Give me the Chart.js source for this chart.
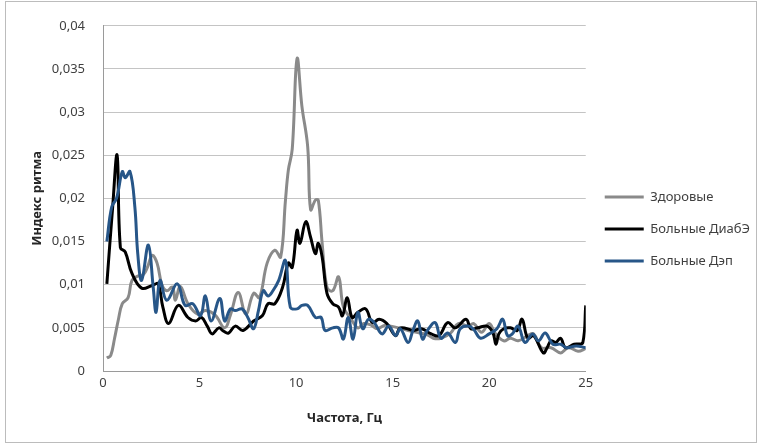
<!DOCTYPE html>
<html>
<head>
<meta charset="utf-8">
<script src="https://cdn.jsdelivr.net/npm/chart.js@4/dist/chart.umd.min.js"></script>
<style>
  html, body { margin: 0; padding: 0; background: #fff; }
  #wrap { width: 760px; height: 448px; }
</style>
</head>
<body>
<div id="wrap"><canvas id="chart" width="760" height="448"></canvas></div>
<script>
const seriesNames = ["Здоровые", "Больные ДиабЭ", "Больные Дэп"];

const healthyFreq = [0.2,0.4,0.6,0.8,1.0,1.3,1.5,1.8,2.1,2.3,2.55,2.8,3.05,3.3,3.6,3.75,4.0,4.4,4.9,5.3,5.8,6.3,6.6,7.0,7.4,7.8,8.1,8.5,8.9,9.2,9.45,9.6,9.8,10.05,10.3,10.6,10.75,11.0,11.15,11.35,11.6,11.9,12.2,12.45,12.8,13.2,13.5,13.9,14.2,14.6,14.9,15.3,15.8,16.4,16.8,17.1,17.5,18.0,18.4,18.9,19.2,19.6,20.0,20.3,20.75,21.1,21.5,22.0,22.3,22.7,23.2,23.7,24.1,24.6,25.0];
const healthyVals = [0.0015,0.0018,0.0038,0.006,0.0078,0.0085,0.0105,0.011,0.0112,0.012,0.0134,0.0125,0.01,0.0093,0.0097,0.0082,0.0098,0.0078,0.0066,0.007,0.0065,0.005,0.0065,0.0091,0.0066,0.009,0.0085,0.0125,0.014,0.0132,0.0198,0.0233,0.0257,0.0362,0.0307,0.026,0.0187,0.0198,0.0198,0.0148,0.0097,0.0093,0.0109,0.0074,0.0062,0.005,0.0055,0.0053,0.0049,0.0053,0.0052,0.005,0.0047,0.0044,0.0042,0.0038,0.0038,0.0044,0.0055,0.0052,0.0055,0.0045,0.0055,0.0044,0.0035,0.0038,0.0035,0.0041,0.0043,0.0027,0.0027,0.0021,0.0027,0.0023,0.0026];

const diabFreq = [0.2,0.5,0.73,0.9,1.15,1.5,2.0,2.55,2.85,3.1,3.4,3.9,4.4,4.8,5.1,5.4,5.65,6.0,6.25,6.5,6.85,7.25,7.8,8.25,8.55,8.9,9.3,9.6,9.8,10.05,10.2,10.5,10.75,11.0,11.15,11.35,11.6,11.9,12.2,12.4,12.65,12.9,13.2,13.6,13.95,14.3,14.7,15.15,15.4,16.1,16.5,17.0,17.4,17.85,18.25,18.8,19.05,19.4,19.9,20.2,20.35,20.5,20.75,21.1,21.45,21.7,22.0,22.3,22.8,23.0,23.2,23.45,23.7,23.95,24.4,24.85,25.0];
const diabVals = [0.0101,0.019,0.025,0.0143,0.0138,0.0113,0.0096,0.0099,0.0101,0.0074,0.0055,0.0076,0.0062,0.0058,0.0062,0.0052,0.0043,0.005,0.0046,0.0044,0.0052,0.0047,0.0058,0.0064,0.0078,0.0078,0.0097,0.0125,0.012,0.0163,0.0148,0.0173,0.0155,0.0136,0.0148,0.0132,0.009,0.0078,0.0074,0.0064,0.0085,0.0062,0.0068,0.0072,0.0056,0.006,0.0055,0.0041,0.005,0.0047,0.0049,0.0043,0.0041,0.0056,0.005,0.006,0.0049,0.005,0.0052,0.0044,0.0031,0.0043,0.0049,0.005,0.0047,0.006,0.0038,0.0041,0.0021,0.0027,0.0035,0.0033,0.0038,0.0027,0.0031,0.0033,0.0076];

const depFreq = [0.2,0.45,0.7,1.0,1.15,1.4,1.65,1.8,2.0,2.35,2.6,2.75,2.95,3.3,3.85,4.25,4.65,5.05,5.3,5.6,6.05,6.3,6.6,6.85,7.2,7.5,7.8,8.05,8.3,8.55,8.8,9.1,9.45,9.7,10.05,10.3,10.6,11.0,11.3,11.5,11.9,12.2,12.45,12.7,12.95,13.2,13.45,13.75,14.05,14.45,14.8,15.15,15.4,15.8,16.05,16.3,16.55,16.8,17.2,17.5,17.85,18.25,18.5,18.95,19.2,19.55,20.0,20.4,20.7,20.95,21.2,21.5,21.85,22.25,22.55,22.9,23.3,23.7,24.0,24.5,25.0];
const depVals = [0.015,0.019,0.02,0.0231,0.0224,0.0231,0.019,0.0136,0.0105,0.0146,0.0097,0.0068,0.0105,0.0082,0.0101,0.0076,0.0078,0.0064,0.0087,0.0058,0.0084,0.0058,0.0072,0.007,0.0072,0.0062,0.0049,0.007,0.0093,0.0087,0.0093,0.0105,0.0128,0.0074,0.0072,0.0076,0.0076,0.0062,0.0062,0.0047,0.005,0.005,0.0037,0.0062,0.0037,0.0068,0.0049,0.006,0.0056,0.0043,0.0052,0.0041,0.0049,0.0033,0.0047,0.0058,0.0037,0.0047,0.0056,0.0038,0.0044,0.0033,0.0049,0.0052,0.0048,0.0038,0.0043,0.0049,0.006,0.0041,0.0043,0.0052,0.0033,0.0043,0.0035,0.0044,0.0031,0.0031,0.0027,0.0029,0.0027];

const xTicks = [0, 5, 10, 15, 20, 25];
const yTicks = [0, 0.005, 0.01, 0.015, 0.02, 0.025, 0.03, 0.035, 0.04];

const FONT = "'Noto Sans', 'DejaVu Sans', sans-serif";

function toPoints(xs, ys) {
  return xs.map((x, i) => ({ x: x, y: ys[i] }));
}

function makeSet(label, xs, ys, color, order) {
  return {
    label: label,
    data: toPoints(xs, ys),
    borderColor: color,
    backgroundColor: color,
    borderWidth: 3,
    pointRadius: 0,
    pointStyle: "line",
    tension: 0.4,
    fill: false,
    order: order,
  };
}

// white background and thin frame, like the office chart
const frame = {
  id: "frame",
  beforeDraw(chart) {
    const ctx = chart.ctx;
    ctx.save();
    ctx.fillStyle = "#fff";
    ctx.fillRect(0, 0, chart.width, chart.height);
    ctx.strokeStyle = "#bcbcbc";
    ctx.lineWidth = 1;
    ctx.strokeRect(5.5, 1.5, 751, 441);
    ctx.restore();
  },
};

const ctx = document.getElementById("chart").getContext("2d");
new Chart(ctx, {
  type: "line",
  data: {
    datasets: [
      makeSet(seriesNames[0], healthyFreq, healthyVals, "#8a8a8a", 3),
      makeSet(seriesNames[1], diabFreq, diabVals, "#000000", 2),
      makeSet(seriesNames[2], depFreq, depVals, "#275688", 1),
    ],
  },
  options: {
    responsive: false,
    animation: false,
    parsing: false,
    layout: { padding: { left: 6, top: 21, right: 0, bottom: 11 } },
    plugins: {
      tooltip: { enabled: false },
      legend: {
        position: "right",
        labels: {
          usePointStyle: true,
          pointStyleWidth: 39,
          boxHeight: 13,
          padding: 19,
          color: "#404040",
          font: { family: FONT, size: 13 },
          sort: (a, b) => a.datasetIndex - b.datasetIndex,
        },
      },
    },
    scales: {
      x: {
        type: "linear",
        min: 0,
        max: 25,
        afterBuildTicks: (s) => { s.ticks = xTicks.map((v) => ({ value: v })); },
        ticks: {
          padding: 4,
          color: "#404040",
          font: { family: FONT, size: 13 },
          maxRotation: 0,
        },
        grid: { display: false, drawTicks: false },
        border: { display: true, color: "#9a9a9a" },
        title: {
          display: true,
          text: "Частота, Гц",
          color: "#262626",
          font: { family: FONT, size: 13, weight: "bold" },
          padding: { top: 4, bottom: 11 },
        },
        afterFit: (s) => { s.height = 66; },
      },
      y: {
        min: 0,
        max: 0.04,
        afterBuildTicks: (s) => { s.ticks = yTicks.map((v) => ({ value: v })); },
        ticks: {
          padding: 18,
          color: "#404040",
          font: { family: FONT, size: 13 },
          callback: (v) => String(+v.toFixed(3)).replace(".", ","),
        },
        grid: { color: "#c4c4c4", drawTicks: false },
        border: { display: true, color: "#9a9a9a" },
        title: {
          display: true,
          text: "Индекс ритма",
          color: "#262626",
          font: { family: FONT, size: 13, weight: "bold" },
          padding: { top: 23, bottom: 0 },
        },
        afterFit: (s) => { s.width = 97; },
      },
    },
  },
  plugins: [frame],
});
</script>
</body>
</html>
